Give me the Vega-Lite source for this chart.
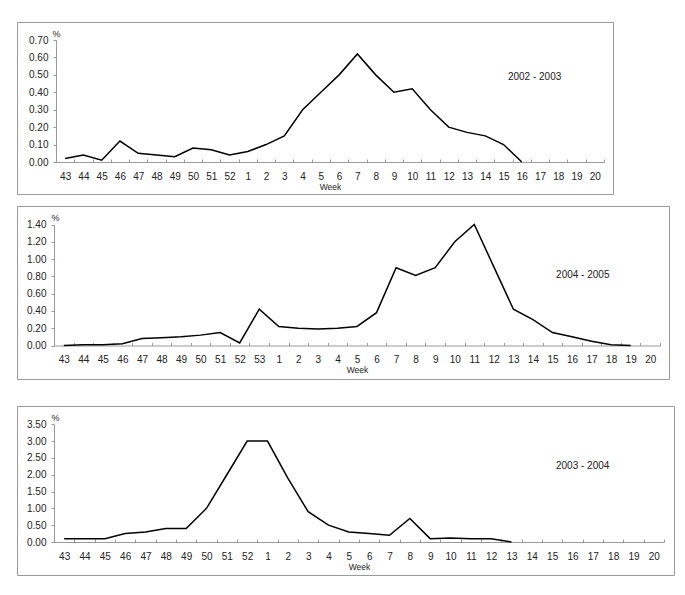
{
  "$schema": "https://vega.github.io/schema/vega-lite/v6.json",
  "padding": {"left": 16, "top": 21, "right": 0, "bottom": 0},
  "background": "white",
  "config": {
    "view": {"stroke": "#9a9a9a", "strokeWidth": 1},
    "font": "Liberation Sans",
    "axis": {"grid": false, "labelFont": "Liberation Sans", "titleFont": "Liberation Sans", "labelColor": "#222", "titleColor": "#222", "labelFontSize": 10, "domainColor": "#999", "tickColor": "#999", "titleFontWeight": "normal", "labelOverlap": false, "labelFlush": false},
    "concat": {"spacing": 10}
  },
  "datasets": {
    "s1": [
      {"week": "43", "pct": 0.02}, {"week": "44", "pct": 0.04}, {"week": "45", "pct": 0.01}, {"week": "46", "pct": 0.12},
      {"week": "47", "pct": 0.05}, {"week": "48", "pct": 0.04}, {"week": "49", "pct": 0.03}, {"week": "50", "pct": 0.08},
      {"week": "51", "pct": 0.07}, {"week": "52", "pct": 0.04}, {"week": "1", "pct": 0.06}, {"week": "2", "pct": 0.10},
      {"week": "3", "pct": 0.15}, {"week": "4", "pct": 0.30}, {"week": "5", "pct": 0.40}, {"week": "6", "pct": 0.50},
      {"week": "7", "pct": 0.62}, {"week": "8", "pct": 0.50}, {"week": "9", "pct": 0.40}, {"week": "10", "pct": 0.42},
      {"week": "11", "pct": 0.30}, {"week": "12", "pct": 0.20}, {"week": "13", "pct": 0.17}, {"week": "14", "pct": 0.15},
      {"week": "15", "pct": 0.10}, {"week": "16", "pct": 0.00}
    ],
    "s2": [
      {"week": "43", "pct": 0.00}, {"week": "44", "pct": 0.01}, {"week": "45", "pct": 0.01}, {"week": "46", "pct": 0.02},
      {"week": "47", "pct": 0.08}, {"week": "48", "pct": 0.09}, {"week": "49", "pct": 0.10}, {"week": "50", "pct": 0.12},
      {"week": "51", "pct": 0.15}, {"week": "52", "pct": 0.03}, {"week": "53", "pct": 0.42}, {"week": "1", "pct": 0.22},
      {"week": "2", "pct": 0.20}, {"week": "3", "pct": 0.19}, {"week": "4", "pct": 0.20}, {"week": "5", "pct": 0.22},
      {"week": "6", "pct": 0.38}, {"week": "7", "pct": 0.90}, {"week": "8", "pct": 0.81}, {"week": "9", "pct": 0.90},
      {"week": "10", "pct": 1.20}, {"week": "11", "pct": 1.40}, {"week": "12", "pct": 0.91}, {"week": "13", "pct": 0.42},
      {"week": "14", "pct": 0.30}, {"week": "15", "pct": 0.15}, {"week": "16", "pct": 0.10}, {"week": "17", "pct": 0.05},
      {"week": "18", "pct": 0.01}, {"week": "19", "pct": 0.00}
    ],
    "s3": [
      {"week": "43", "pct": 0.10}, {"week": "44", "pct": 0.10}, {"week": "45", "pct": 0.10}, {"week": "46", "pct": 0.25},
      {"week": "47", "pct": 0.30}, {"week": "48", "pct": 0.40}, {"week": "49", "pct": 0.40}, {"week": "50", "pct": 1.00},
      {"week": "51", "pct": 2.00}, {"week": "52", "pct": 3.00}, {"week": "1", "pct": 3.00}, {"week": "2", "pct": 1.90},
      {"week": "3", "pct": 0.90}, {"week": "4", "pct": 0.50}, {"week": "5", "pct": 0.30}, {"week": "6", "pct": 0.25},
      {"week": "7", "pct": 0.20}, {"week": "8", "pct": 0.70}, {"week": "9", "pct": 0.10}, {"week": "10", "pct": 0.12},
      {"week": "11", "pct": 0.10}, {"week": "12", "pct": 0.10}, {"week": "13", "pct": 0.00}
    ]
  },
  "vconcat": [
    {
      "spacing": 10,
      "vconcat": [
        {
          "width": 596,
          "height": 172,
          "layer": [
            {
              "data": {"name": "s1"},
              "mark": {"type": "line", "color": "black", "strokeWidth": 1.5},
              "encoding": {
                "x": {"field": "week", "type": "ordinal", "bandPosition": 0.5,
                  "scale": {"type": "band", "domain": ["43","44","45","46","47","48","49","50","51","52","1","2","3","4","5","6","7","8","9","10","11","12","13","14","15","16","17","18","19","20"], "range": [39, 587], "paddingInner": 0, "paddingOuter": 0},
                  "axis": {"title": "Week", "offset": -32, "tickBand": "extent", "tickSize": -3, "labelPadding": 20, "labelBaseline": "alphabetic", "labelAngle": 0, "labelOverlap": false, "titleFontSize": 8.5, "titleBaseline": "alphabetic", "titleY": 27}},
                "y": {"field": "pct", "type": "quantitative",
                  "scale": {"domain": [0, 0.7], "range": [140, 18], "nice": false, "zero": true},
                  "axis": {"title": "%", "titleAngle": 0, "titleAlign": "left", "titleBaseline": "middle", "titleX": -4, "titleY": 11, "titleFontSize": 9, "offset": -39, "values": [0, 0.1, 0.2, 0.3, 0.4, 0.5, 0.6, 0.7], "tickCount": 20, "format": ".2f", "tickSize": 3, "labelPadding": 5, "labelOverlap": false, "labelFlush": false}},
                "order": {"value": null}
              }
            },
            {
              "data": {"values": [{"label": "2002 - 2003"}]},
              "mark": {"type": "text", "fontSize": 10, "font": "Liberation Sans", "color": "#222", "align": "center", "baseline": "middle"},
              "encoding": {
                "x": {"datum": "17", "type": "ordinal", "bandPosition": 0.2},
                "y": {"datum": 0.49, "type": "quantitative"},
                "text": {"field": "label"}
              }
            }
          ]
        },
        {
          "width": 652,
          "height": 173,
          "layer": [
            {
              "data": {"name": "s2"},
              "mark": {"type": "line", "color": "black", "strokeWidth": 1.5},
              "encoding": {
                "x": {"field": "week", "type": "ordinal", "bandPosition": 0.5,
                  "scale": {"type": "band", "domain": ["43","44","45","46","47","48","49","50","51","52","53","1","2","3","4","5","6","7","8","9","10","11","12","13","14","15","16","17","18","19","20"], "range": [37, 643], "paddingInner": 0, "paddingOuter": 0},
                  "axis": {"title": "Week", "offset": -33.5, "tickBand": "extent", "tickSize": -3, "labelPadding": 20, "labelBaseline": "alphabetic", "labelAngle": 0, "labelOverlap": false, "titleFontSize": 8.5, "titleBaseline": "alphabetic", "titleY": 26.5}},
                "y": {"field": "pct", "type": "quantitative",
                  "scale": {"domain": [0, 1.4], "range": [139.5, 18.5], "nice": false, "zero": true},
                  "axis": {"title": "%", "titleAngle": 0, "titleAlign": "left", "titleBaseline": "middle", "titleX": -3, "titleY": 11, "titleFontSize": 9, "offset": -37, "values": [0, 0.2, 0.4, 0.6, 0.8, 1.0, 1.2, 1.4], "tickCount": 20, "format": ".2f", "tickSize": 3, "labelPadding": 5, "labelOverlap": false, "labelFlush": false}},
                "order": {"value": null}
              }
            },
            {
              "data": {"values": [{"label": "2004 - 2005"}]},
              "mark": {"type": "text", "fontSize": 10, "font": "Liberation Sans", "color": "#222", "align": "center", "baseline": "middle"},
              "encoding": {
                "x": {"datum": "17", "type": "ordinal", "bandPosition": 0.05},
                "y": {"datum": 0.82, "type": "quantitative"},
                "text": {"field": "label"}
              }
            }
          ]
        }
      ]
    },
    {
      "width": 657,
      "height": 169,
      "layer": [
        {
          "data": {"name": "s3"},
          "mark": {"type": "line", "color": "black", "strokeWidth": 1.5},
          "encoding": {
            "x": {"field": "week", "type": "ordinal", "bandPosition": 0.5,
              "scale": {"type": "band", "domain": ["43","44","45","46","47","48","49","50","51","52","1","2","3","4","5","6","7","8","9","10","11","12","13","14","15","16","17","18","19","20"], "range": [37, 647], "paddingInner": 0, "paddingOuter": 0},
              "axis": {"title": "Week", "offset": -33, "tickBand": "extent", "tickSize": -3, "labelPadding": 20, "labelBaseline": "alphabetic", "labelAngle": 0, "labelOverlap": false, "titleFontSize": 8.5, "titleBaseline": "alphabetic", "titleY": 27.5}},
            "y": {"field": "pct", "type": "quantitative",
              "scale": {"domain": [0, 3.5], "range": [136, 18.3], "nice": false, "zero": true},
              "axis": {"title": "%", "titleAngle": 0, "titleAlign": "left", "titleBaseline": "middle", "titleX": -3, "titleY": 11.5, "titleFontSize": 9, "offset": -37, "values": [0, 0.5, 1.0, 1.5, 2.0, 2.5, 3.0, 3.5], "tickCount": 20, "format": ".2f", "tickSize": 3, "labelPadding": 5, "labelOverlap": false, "labelFlush": false}},
            "order": {"value": null}
          }
        },
        {
          "data": {"values": [{"label": "2003 - 2004"}]},
          "mark": {"type": "text", "fontSize": 10, "font": "Liberation Sans", "color": "#222", "align": "center", "baseline": "middle"},
          "encoding": {
            "x": {"datum": "17", "type": "ordinal", "bandPosition": 0},
            "y": {"datum": 2.27, "type": "quantitative"},
            "text": {"field": "label"}
          }
        }
      ]
    }
  ],
  "spacing": 25
}
